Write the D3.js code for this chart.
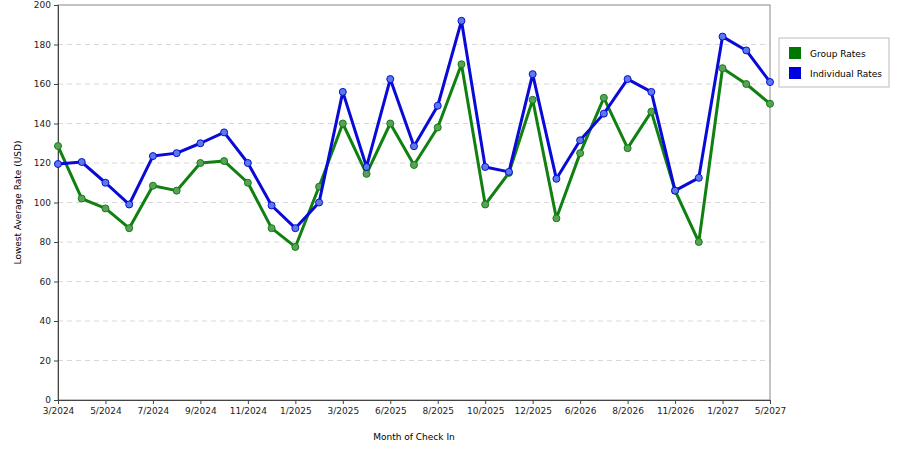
<html>
<head>
<script src="https://cdn.jsdelivr.net/npm/d3@7"></script>
<style>
body { margin: 0; padding: 0; background: #fff; font-family: "DejaVu Sans", sans-serif; }
</style>
</head>
<body>
<div id="chart"></div>
<script>
var months = ["3/2024","4/2024","5/2024","6/2024","7/2024","8/2024","9/2024","10/2024","11/2024","12/2024",
    "1/2025","2/2025","3/2025","5/2025","6/2025","7/2025","8/2025","9/2025","10/2025","11/2025",
    "12/2025","5/2026","6/2026","7/2026","8/2026","10/2026","11/2026","12/2026","1/2027","3/2027","5/2027"];
var groupRates = [128.6,102,97,87,108.5,106,120,121,110,87,77.5,108,140,114.5,140,119,138,170,99,115,
    152,92,125,153,127.5,146,106,80,168,160,150];
var individualRates = [119.5,120.5,110,99,123.5,125,130,135.5,120,98.5,87,100,156,118,162.5,128.5,149,192,118,115.5,
    165,112,131.5,145,162.5,156,106,112.5,184,177,161];
var yTicks = [0,20,40,60,80,100,120,140,160,180,200];

var series = [
    { name: "Group Rates", values: groupRates, line: "#108010", fill: "#5aa05a", key: "#007700" },
    { name: "Individual Rates", values: individualRates, line: "#0a0ad8", fill: "#5a7ae8", key: "#0000dd" }
];

var svg = d3.select("#chart").append("svg").attr("width", 900).attr("height", 450);
var plotL = 58, plotR = 770, plotT = 5, plotB = 400;

var x = d3.scalePoint().domain(months).range([plotL, plotR]);
var y = d3.scaleLinear().domain([0, 200]).range([plotB, plotT]);

// grid
svg.selectAll("line.grid").data(yTicks.slice(1, -1)).enter().append("line")
    .attr("x1", plotL).attr("x2", plotR)
    .attr("y1", d => y(d)).attr("y2", d => y(d))
    .attr("stroke", "#d8d8d8").attr("stroke-dasharray", "5,4");

// frame
svg.append("rect").attr("x", plotL).attr("y", plotT).attr("width", plotR - plotL).attr("height", plotB - plotT)
    .attr("fill", "none").attr("stroke", "#888");

var yAxis = svg.append("g").attr("transform", "translate(" + plotL + ",0)")
    .call(d3.axisLeft(y).tickValues(yTicks).tickSize(4).tickPadding(3));
var xAxis = svg.append("g").attr("transform", "translate(0," + plotB + ")")
    .call(d3.axisBottom(x).tickValues(months.filter((d, i) => i % 2 === 0)).tickSize(4).tickPadding(4));
[xAxis, yAxis].forEach(function (a) {
    a.selectAll("text").style("font-size", "9px").attr("fill", "#222").style("font-family", "DejaVu Sans, sans-serif");
    a.selectAll("line,path").attr("stroke", "#444");
});

svg.append("text").attr("x", (plotL + plotR) / 2).attr("y", 440).attr("text-anchor", "middle")
    .style("font-size", "9px").text("Month of Check In");
svg.append("text").attr("transform", "translate(21," + (plotB + plotT) / 2 + ") rotate(-90)")
    .attr("text-anchor", "middle").style("font-size", "9px").text("Lowest Average Rate (USD)");

var line = d3.line().x((d, i) => x(months[i])).y(d => y(d));
series.forEach(function (s) {
    svg.append("path").datum(s.values).attr("d", line)
        .attr("fill", "none").attr("stroke", s.line).attr("stroke-width", 3).attr("stroke-linejoin", "round");
    svg.selectAll(null).data(s.values).enter().append("circle")
        .attr("cx", (d, i) => x(months[i])).attr("cy", d => y(d)).attr("r", 3.5)
        .attr("fill", s.fill).attr("stroke", s.line).attr("stroke-width", 1);
});

// legend
var lg = svg.append("g").attr("transform", "translate(779,38)");
lg.append("rect").attr("width", 110).attr("height", 49).attr("fill", "#fff").attr("stroke", "#bbb");
series.forEach(function (s, i) {
    lg.append("rect").attr("x", 10).attr("y", 9 + i * 20).attr("width", 12).attr("height", 12).attr("fill", s.key);
    lg.append("text").attr("x", 31).attr("y", 19 + i * 20).style("font-size", "9px").text(s.name);
});
</script>
</body>
</html>
